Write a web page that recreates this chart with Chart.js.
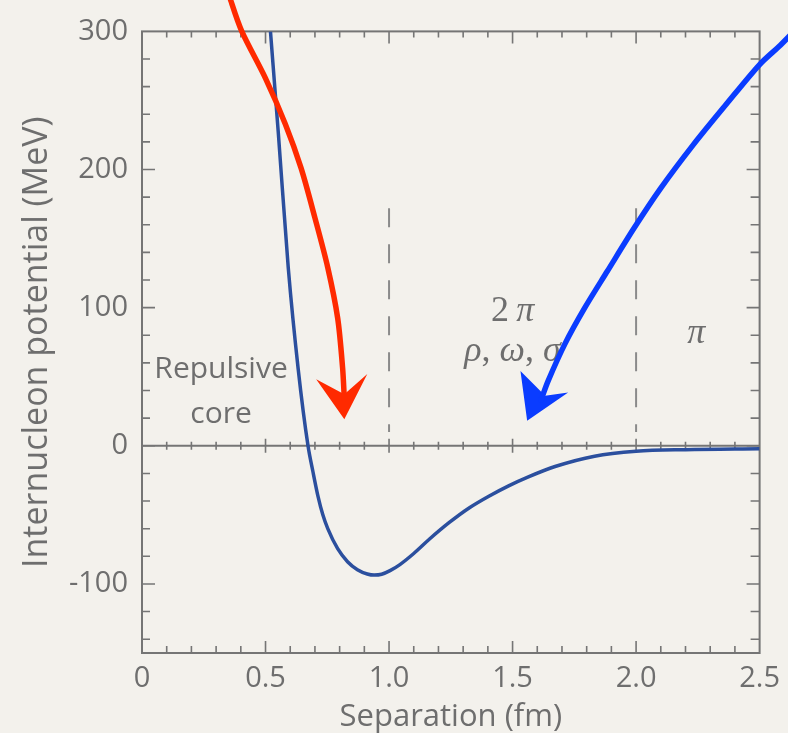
<!DOCTYPE html>
<html>
<head>
<meta charset="utf-8">
<title>Internucleon potential</title>
<script src="https://cdn.jsdelivr.net/npm/chart.js@4.4.1/dist/chart.umd.min.js"></script>
<style>
  html, body { margin: 0; padding: 0; background: #f3f1ec; }
  #wrap { width: 788px; height: 733px; }
</style>
</head>
<body>
<div id="wrap"><canvas id="potentialChart" width="788" height="733"></canvas></div>
<script>
// Potential curve
const separation = [0.52, 0.552, 0.592, 0.632, 0.672, 0.692, 0.712, 0.732, 0.752, 0.792, 0.832, 0.872, 0.912, 0.94, 0.97, 1.004, 1.044, 1.1, 1.164, 1.244, 1.324, 1.404, 1.484, 1.564, 1.672, 1.832, 2.0, 2.2, 2.5];
const potential = [300, 226, 129, 56, 0, -18.8, -36.2, -50, -60, -74.5, -83.9, -89.7, -92.8, -93.6, -93, -90.4, -86, -78, -67.5, -55.5, -45, -36.5, -29, -22.5, -15, -7.5, -4, -2.8, -2.2];

// Hand drawn arrows, in data units
const redArrowX = [0.34, 0.36, 0.404, 0.5, 0.58, 0.644, 0.70, 0.752, 0.792, 0.812, 0.819];
const redArrowY = [335, 322, 300, 266, 233, 201, 165, 129, 92.5, 56.4, 34];
const redHeadX = [0.705, 0.819, 0.912, 0.819, 0.705, 0.912];
const redHeadY = [48.2, 37.3, 51.9, 19.3, 48.2, 51.9];
const blueArrowX = [2.65, 2.584, 2.5, 2.364, 2.232, 2.1, 1.992, 1.884, 1.792, 1.712, 1.644, 1.615];
const blueArrowY = [302, 290, 276, 247, 218, 186.5, 157.6, 126.5, 99.8, 73.8, 47, 33];
const blueHeadX = [1.532, 1.632, 1.725, 1.559, 1.532, 1.725];
const blueHeadY = [54.2, 36.2, 38.5, 18.1, 54.2, 38.5];

// Dashed dividers between regions
const dividerX = [1.0, 2.0];
const dividerTop = 172;
const dividerBottom = 10;

// Axis ticks
const xTickValues = [0, 0.5, 1.0, 1.5, 2.0, 2.5];
const xTickLabels = ['0', '0.5', '1.0', '1.5', '2.0', '2.5'];
const yTickValues = [-100, 0, 100, 200, 300];
const yTickLabels = ['-100', '0', '100', '200', '300'];

// Region labels; runs marked italic are drawn in italic serif
const regionNotes = [
    { runs: [['Repulsive', 'sans']], x: 0.32, y: 49 },
    { runs: [['core', 'sans']], x: 0.32, y: 16.6 },
    { runs: [['2', 'up'], ['\u2009\u03C0', 'it']], x: 1.5, y: 90 },
    { runs: [['\u03C1', 'it'], [', ', 'up'], ['\u03C9', 'it'], [', ', 'up'], ['\u03C3', 'it']], x: 1.5, y: 61.5 },
    { runs: [['\u03C0', 'it']], x: 2.244, y: 74.5 }
];

const axisColor = '#757575';
const textColor = '#6e6e6e';
const runFonts = {
    sans: '30px "Open Sans"',
    up: '36px "Liberation Serif"',
    it: 'italic 36px "Liberation Serif"'
};

function pts(xs, ys) {
    return xs.map((v, i) => ({ x: v, y: ys[i] }));
}

// Frame, zero line, inner ticks and region labels
const frameTicks = {
    id: 'frameTicks',
    beforeDatasetsDraw(chart) {
        const { ctx, chartArea: a, scales: { x, y } } = chart;
        ctx.save();
        ctx.strokeStyle = axisColor;
        ctx.lineWidth = 2;
        ctx.strokeRect(a.left, a.top, a.right - a.left, a.bottom - a.top);

        const y0 = y.getPixelForValue(0);
        ctx.beginPath();
        ctx.moveTo(a.left, y0);
        ctx.lineTo(a.right, y0);
        ctx.stroke();

        ctx.lineWidth = 1.6;
        ctx.beginPath();
        for (let i = 1; i < 25; i++) {
            const major = i % 5 === 0;
            const px = x.getPixelForValue(i / 10);
            ctx.moveTo(px, a.bottom);
            ctx.lineTo(px, a.bottom - (major ? 12 : 7));
            ctx.moveTo(px, a.top);
            ctx.lineTo(px, a.top + (major ? 12 : 6));
            ctx.moveTo(px, y0 - (major ? 7 : 4));
            ctx.lineTo(px, y0 + (major ? 7 : 4));
        }
        for (let v = -140; v < 300; v += 20) {
            const major = v % 100 === 0;
            const py = y.getPixelForValue(v);
            ctx.moveTo(a.left, py);
            ctx.lineTo(a.left + (major ? 13 : 8), py);
            ctx.moveTo(a.right, py);
            ctx.lineTo(a.right - (major ? 13 : 9), py);
        }
        ctx.stroke();

        ctx.fillStyle = textColor;
        ctx.textAlign = 'left';
        ctx.textBaseline = 'alphabetic';
        regionNotes.forEach(n => {
            let total = 0;
            n.runs.forEach(r => { ctx.font = runFonts[r[1]]; total += ctx.measureText(r[0]).width; });
            let cx = x.getPixelForValue(n.x) - total / 2;
            const cy = y.getPixelForValue(n.y);
            n.runs.forEach(r => {
                ctx.font = runFonts[r[1]];
                ctx.fillText(r[0], cx, cy);
                cx += ctx.measureText(r[0]).width;
            });
        });
        ctx.restore();
    }
};

const ctx = document.getElementById('potentialChart').getContext('2d');

const datasets = [
    {
        data: pts(redArrowX, redArrowY),
        borderColor: '#ff2a00',
        borderWidth: 5.5,
        borderCapStyle: 'round',
        borderJoinStyle: 'round',
        tension: 0.3,
        clip: false,
        order: 0
    },
    {
        data: pts(redHeadX, redHeadY),
        borderWidth: 0,
        backgroundColor: '#ff2a00',
        fill: 'shape',
        order: 0
    },
    {
        data: pts(blueArrowX, blueArrowY),
        borderColor: '#0a3cff',
        borderWidth: 5.5,
        borderCapStyle: 'round',
        borderJoinStyle: 'round',
        tension: 0.3,
        clip: false,
        order: 0
    },
    {
        data: pts(blueHeadX, blueHeadY),
        borderWidth: 0,
        backgroundColor: '#0a3cff',
        fill: 'shape',
        order: 0
    },
    {
        data: pts(separation, potential),
        borderColor: '#2b4f9e',
        borderWidth: 3.5,
        cubicInterpolationMode: 'monotone',
        order: 1
    }
];

dividerX.forEach(d => {
    datasets.push({
        data: [{ x: d, y: dividerTop }, { x: d, y: dividerBottom }],
        borderColor: '#8a8a8a',
        borderWidth: 2,
        borderDash: [19, 17],
        order: 2
    });
});

new Chart(ctx, {
    type: 'line',
    data: { datasets: datasets },
    options: {
        responsive: false,
        animation: false,
        events: [],
        layout: { padding: { top: 29, right: 21, left: 0, bottom: 0 } },
        elements: { point: { radius: 0 } },
        plugins: {
            legend: { display: false },
            tooltip: { enabled: false }
        },
        scales: {
            x: {
                type: 'linear',
                min: 0,
                max: 2.5,
                afterBuildTicks: axis => { axis.ticks = xTickValues.map(v => ({ value: v })); },
                afterFit: axis => { axis.height = 80; },
                border: { display: false },
                grid: { display: false, drawTicks: false },
                ticks: {
                    padding: 8,
                    color: textColor,
                    maxRotation: 0,
                    font: { family: '"Open Sans"', size: 29 },
                    callback: (v, i) => xTickLabels[i]
                },
                title: {
                    display: true,
                    text: 'Separation (fm)',
                    color: textColor,
                    padding: { top: 0, bottom: 0 },
                    font: { family: '"Open Sans"', size: 31, lineHeight: 1 }
                }
            },
            y: {
                min: -150,
                max: 300,
                afterBuildTicks: axis => { axis.ticks = yTickValues.map(v => ({ value: v })); },
                afterFit: axis => { axis.width = 142; },
                border: { display: false },
                grid: { display: false, drawTicks: false },
                ticks: {
                    padding: 14,
                    color: textColor,
                    font: { family: '"Open Sans"', size: 29 },
                    callback: (v, i) => yTickLabels[i]
                },
                title: {
                    display: true,
                    text: 'Internucleon potential (MeV)',
                    color: textColor,
                    padding: { top: 20, bottom: 0 },
                    font: { family: '"Open Sans"', size: 34, lineHeight: 1 }
                }
            }
        }
    },
    plugins: [frameTicks]
});
</script>
</body>
</html>
